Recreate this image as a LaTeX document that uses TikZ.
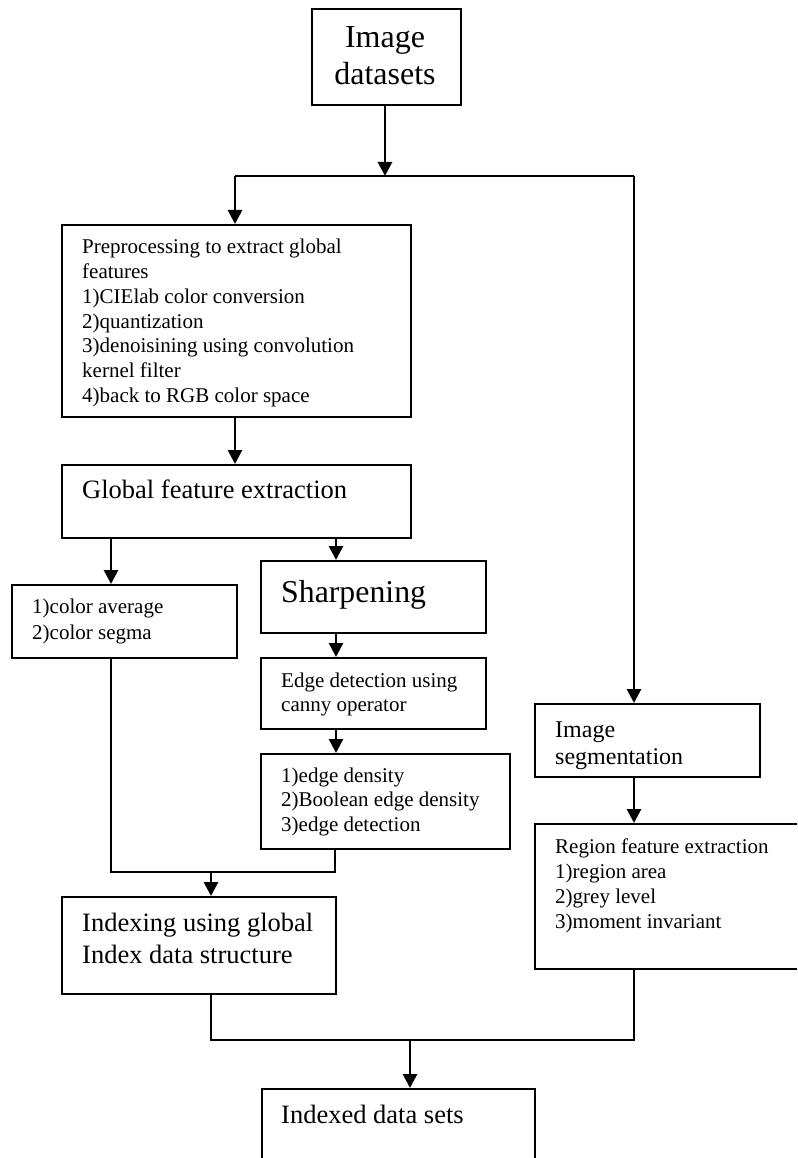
\documentclass[tikz,border=0pt]{standalone}
\usepackage{fontspec}
\setmainfont{Liberation Serif}
\usetikzlibrary{arrows.meta}
\newcommand{\mlines}[1]{\begin{tabular}[t]{@{}l@{}}#1\end{tabular}}
\newcommand{\fs}[2]{\fontsize{#1}{#2}\selectfont}
\begin{document}
\begin{tikzpicture}[x=1pt,y=-1pt,
  box/.style={draw, line width=1.8pt, inner sep=0pt, anchor=north west},
  arr/.style={line width=2.8pt, -{Triangle[length=14pt,width=14pt]}},
  ln/.style={line width=1.8pt},
  txt/.style={anchor=base west, inner sep=0pt}
]
\useasboundingbox (0,0) rectangle (797,1158);
\clip (0,0) rectangle (797,1158);

% boxes
\node[box, minimum width=149pt, minimum height=96pt] (ds) at (311,8) {};
\node[box, minimum width=349pt, minimum height=192pt] (pre) at (61,224) {};
\node[box, minimum width=349pt, minimum height=73pt] (glob) at (61,464) {};
\node[box, minimum width=225pt, minimum height=73pt] (col) at (11,584) {};
\node[box, minimum width=225pt, minimum height=72pt] (sharp) at (260,560) {};
\node[box, minimum width=225pt, minimum height=71pt] (edge) at (260,657) {};
\node[box, minimum width=249pt, minimum height=95pt] (dens) at (260,753) {};
\node[box, minimum width=274pt, minimum height=97pt] (idx) at (61,896) {};
\node[box, minimum width=225pt, minimum height=73pt] (seg) at (534,703) {};
\node[box, minimum width=280pt, minimum height=145pt] (reg) at (534,823) {};
\node[box, minimum width=273pt, minimum height=90pt] (out) at (261,1088) {};

% texts
\node[anchor=base, inner sep=0pt, font=\fs{32}{37}] (tds) at (385,48)
  {\begin{tabular}[t]{@{}c@{}}Image\\datasets\end{tabular}};
\node[txt, font=\fs{21}{24.7}] (tpre) at (82,254)
  {\mlines{Preprocessing to extract global\\features\\1)CIElab color conversion\\2)quantization\\3)denoisining using convolution\\kernel filter\\4)back to RGB color space}};
\node[txt, font=\fs{26.5}{32}] (tglob) at (82,498) {Global feature extraction};
\node[txt, font=\fs{21}{26}] (tcol) at (32,613) {\mlines{1)color average\\2)color segma}};
\node[txt, font=\fs{31.8}{36}] (tsharp) at (281,602) {Sharpening};
\node[txt, font=\fs{21}{24.5}] (tedge) at (281,687) {\mlines{Edge detection using\\canny operator}};
\node[txt, font=\fs{21}{24.7}] (tdens) at (281,782) {\mlines{1)edge density\\2)Boolean edge density\\3)edge detection}};
\node[txt, font=\fs{26.5}{32}] (tidx) at (82,931) {\mlines{Indexing using global\\Index data structure}};
\node[txt, font=\fs{24}{27}] (tseg) at (555,737) {\mlines{Image\\segmentation}};
\node[txt, font=\fs{21}{25}] (treg) at (555,853) {\mlines{Region feature extraction\\1)region area\\2)grey level\\3)moment invariant}};
\node[txt, font=\fs{26.5}{32}] (tout) at (281,1123) {Indexed data sets};

% junction coordinates
\coordinate (j1) at (385,176);
\coordinate (jl) at (235,176);
\coordinate (jr) at (634,176);
\coordinate (ga) at (111,537);
\coordinate (gb) at (336,537);
\coordinate (m1) at (111,872);
\coordinate (m2) at (335,872);
\coordinate (mj) at (211,872);
\coordinate (b1) at (211,1040);
\coordinate (b2) at (634,1040);
\coordinate (bj) at (410,1040);

% connectors
\draw[arr] (ds.south -| j1) -- (j1);
\draw[ln] (jl) -- (jr);
\draw[arr] (jl) -- (jl |- pre.north);
\draw[arr] (jr) -- (jr |- seg.north);
\draw[arr] (pre.south -| jl) -- (glob.north -| jl);
\draw[arr] (ga) -- (ga |- col.north);
\draw[arr] (gb) -- (gb |- sharp.north);
\draw[arr] (sharp.south -| gb) -- (edge.north -| gb);
\draw[arr] (edge.south -| gb) -- (dens.north -| gb);
\draw[ln] (col.south -| m1) -- (m1) -- (m2) -- (dens.south -| m2);
\draw[arr] (mj) -- (mj |- idx.north);
\draw[ln] (idx.south -| b1) -- (b1) -- (b2) -- (reg.south -| b2);
\draw[arr] (bj) -- (bj |- out.north);
\draw[arr] (seg.south -| jr) -- (reg.north -| jr);
\end{tikzpicture}
\end{document}
